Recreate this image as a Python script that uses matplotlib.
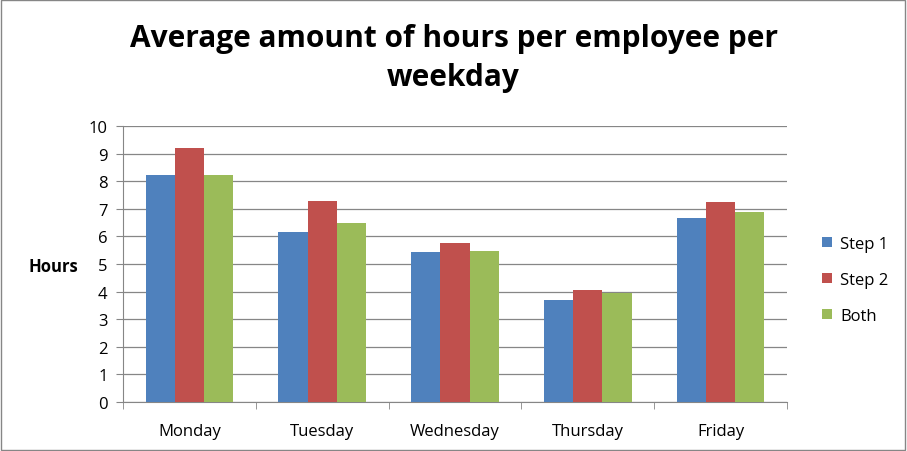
import matplotlib.pyplot as plt
import numpy as np

days = ['Monday', 'Tuesday', 'Wednesday', 'Thursday', 'Friday']
step1 = [8.21, 6.17, 5.43, 3.69, 6.67]
step2 = [9.19, 7.30, 5.75, 4.06, 7.23]
both = [8.21, 6.49, 5.48, 3.94, 6.90]
series = ['Step 1', 'Step 2', 'Both']
colors = ['#4f81bd', '#c0504d', '#9bbb59']

plt.rcParams['font.family'] = ['Open Sans', 'DejaVu Sans']

fig = plt.figure(figsize=(9.07, 4.52), dpi=100)
ax = fig.add_axes([123 / 907, 1 - 403 / 452, 664 / 907, 276 / 452])

x = np.arange(len(days))
w = 0.22
for i, (vals, name) in enumerate(zip([step1, step2, both], series)):
    ax.bar(x + (i - 1) * w, vals, w, color=colors[i], label=name, zorder=3)

ax.set_xlim(-0.5, 4.5)
ax.set_ylim(0, 10)
ax.set_yticks(range(11))
ax.set_xticks(x)
ax.set_xticklabels(days, fontsize=12)
ax.set_xticks(np.arange(-0.5, 5, 1), minor=True)
ax.tick_params(axis='x', which='major', length=0, pad=15)
ax.tick_params(axis='x', which='minor', length=5, color='#868686')
ax.tick_params(axis='y', length=5, color='#868686', labelsize=12, pad=6)
ax.grid(axis='y', color='#868686', linewidth=0.9, zorder=0)
for s in ['top', 'right']:
    ax.spines[s].set_visible(False)
for s in ['left', 'bottom']:
    ax.spines[s].set_color('#868686')

fig.text(78 / 907, 1 - 267 / 452, 'Hours', fontsize=12, fontweight='bold',
         ha='right', va='center')
fig.suptitle('Average amount of hours per employee per\nweekday', fontsize=21.5,
             fontweight='bold', y=1 - 24 / 452, linespacing=1.4)

ax.legend(loc='center left', bbox_to_anchor=(1.03, 0.443), frameon=False,
          fontsize=12, handlelength=0.6, handleheight=0.6, labelspacing=1.2,
          handletextpad=0.5)

fig.patches.append(plt.Rectangle((0.001, 0.002), 0.997, 0.996, transform=fig.transFigure,
                                 fill=False, edgecolor='#868686', linewidth=1))

fig.savefig('out.png', dpi=100)
